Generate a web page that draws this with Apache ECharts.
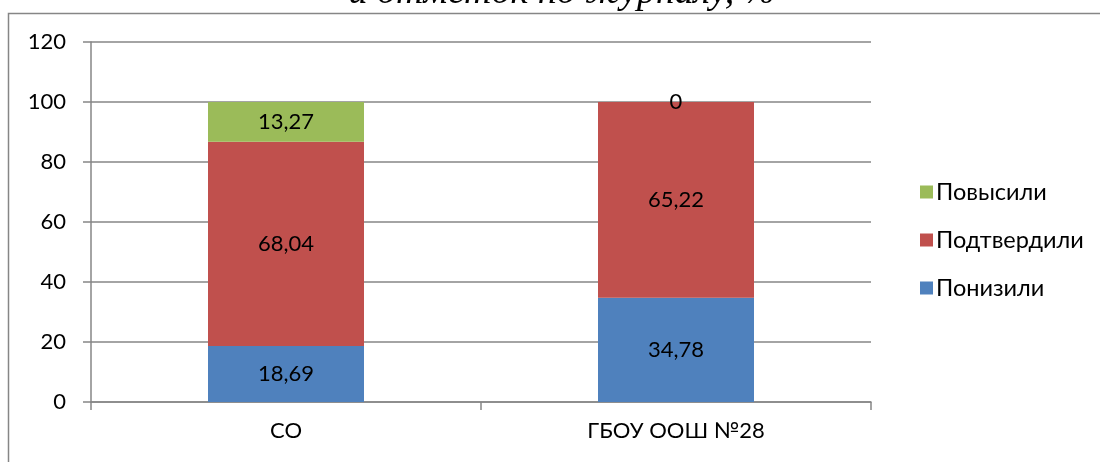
<!DOCTYPE html>
<html><head><meta charset="utf-8">
<script src="https://cdn.jsdelivr.net/npm/echarts@6/dist/echarts.min.js"></script>
<style>html,body{margin:0;padding:0;background:#fff}#c{width:1100px;height:462px}</style>
</head><body><div id="c"></div>
<script>
const categories = ['СО', 'ГБОУ ООШ №28'];
const lowered = [18.69, 34.78];
const confirmed = [68.04, 65.22];
const raised = [13.27, 0];
const yTicks = [0, 20, 40, 60, 80, 100, 120];
const seriesNames = ['Понизили', 'Подтвердили', 'Повысили'];
const titleText = 'и отметок по журналу, %';

const chart = echarts.init(document.getElementById('c'));
const fontFam = 'Lato, "Open Sans", sans-serif';
const lbl = {show: true, position: 'inside', color: '#000', fontSize: 22, fontFamily: fontFam,
  formatter: p => String(p.value).replace('.', ',')};
chart.setOption({
  animation: false,
  graphic: [
    {type: 'rect', shape: {x: 8.5, y: 13.5, width: 1100, height: 470}, style: {fill: 'none', stroke: '#868686', lineWidth: 1.5}, z: -1},
    {type: 'text', x: 562, y: 12, style: {text: titleText, font: 'italic 38px "Liberation Serif", serif', fill: '#000', align: 'center', verticalAlign: 'bottom'}, z: 0}
  ],
  grid: {left: 91, right: 229, top: 42, bottom: 60},
  legend: {
    orient: 'vertical', left: 915, top: 175, itemGap: 24, itemWidth: 13, itemHeight: 13,
    data: [seriesNames[2], seriesNames[1], seriesNames[0]],
    textStyle: {fontSize: 23.5, fontFamily: fontFam, color: '#000', padding: [0, 0, 0, -2]},
    icon: 'rect'
  },
  xAxis: {
    type: 'category', data: categories,
    axisLine: {lineStyle: {color: '#868686', width: 1.5}},
    axisTick: {show: true, alignWithLabel: false, length: 8, lineStyle: {color: '#868686', width: 1.5}},
    axisLabel: {fontSize: 22, fontFamily: fontFam, color: '#000', margin: 18}
  },
  yAxis: {
    type: 'value', min: 0, max: 120, interval: 20,
    axisLine: {show: true, lineStyle: {color: '#868686', width: 1.5}},
    axisTick: {show: true, length: 8, lineStyle: {color: '#868686', width: 1.5}},
    splitLine: {lineStyle: {color: '#868686', width: 1.5}},
    axisLabel: {fontSize: 22, fontFamily: fontFam, color: '#000', margin: 25,
      formatter: v => yTicks.includes(v) ? String(v) : ''}
  },
  series: [
    {name: seriesNames[0], type: 'bar', stack: 's', data: lowered, barWidth: '40%', itemStyle: {color: '#4F81BD'}, label: lbl},
    {name: seriesNames[1], type: 'bar', stack: 's', data: confirmed, itemStyle: {color: '#C0504D'}, label: lbl},
    {name: seriesNames[2], type: 'bar', stack: 's', data: raised, itemStyle: {color: '#9BBB59'}, label: lbl}
  ]
});
</script></body></html>
